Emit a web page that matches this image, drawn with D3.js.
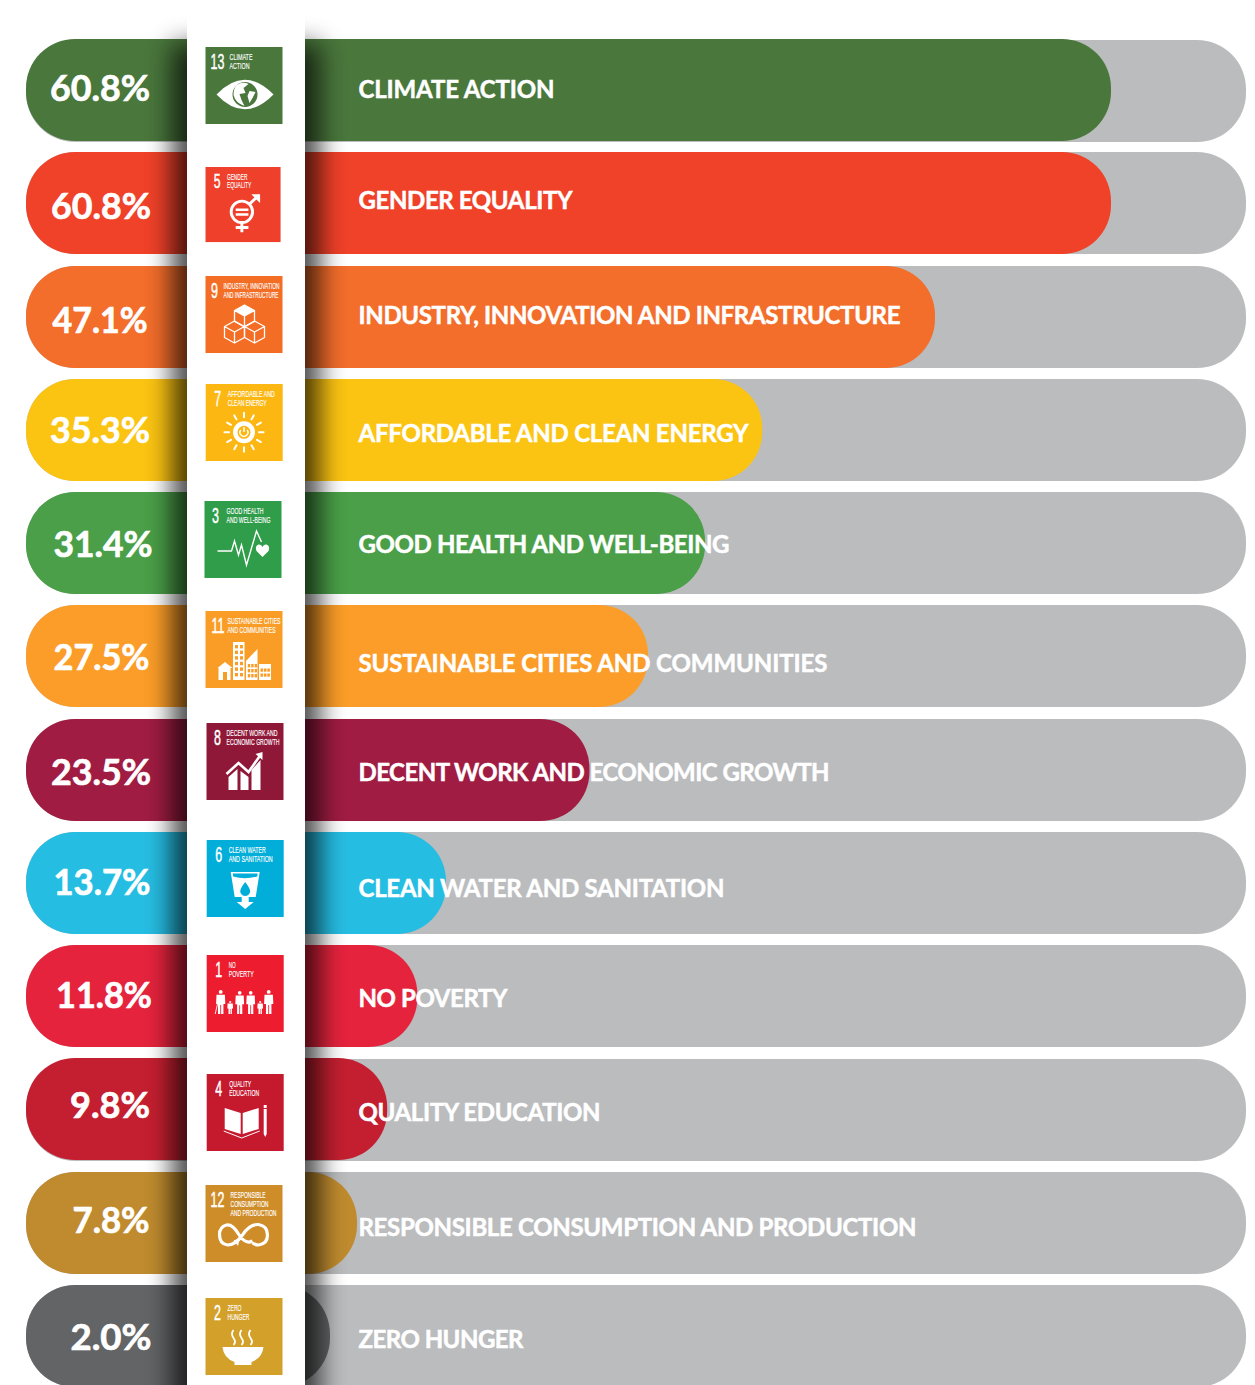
<!DOCTYPE html>
<html><head><meta charset="utf-8">
<script src="https://cdn.jsdelivr.net/npm/d3@7/dist/d3.min.js"></script>
<style>html,body{margin:0;padding:0;background:#fff;overflow:hidden}svg{display:block}</style>
</head><body><div id="chart"></div>
<script>
// ---- data ----
const goals = ["CLIMATE ACTION","GENDER EQUALITY","INDUSTRY, INNOVATION AND INFRASTRUCTURE","AFFORDABLE AND CLEAN ENERGY","GOOD HEALTH AND WELL-BEING","SUSTAINABLE CITIES AND COMMUNITIES","DECENT WORK AND ECONOMIC GROWTH","CLEAN WATER AND SANITATION","NO POVERTY","QUALITY EDUCATION","RESPONSIBLE CONSUMPTION AND PRODUCTION","ZERO HUNGER"];
const shares = [60.8,60.8,47.1,35.3,31.4,27.5,23.5,13.7,11.8,9.8,7.8,2.0];
const sdgNumbers = [13,5,9,7,3,11,8,6,1,4,12,2];
const barColors = ["#4a773c","#f04129","#f36d2b","#fbc412","#4a9f48","#fb9d28","#a01c42","#26bde2","#e5233d","#c41f30","#bf8b2e","#636466"];
const iconColors = ["#4a773c","#ef402b","#f36d25","#fdb713","#2f9d4a","#fa9d26","#8f1838","#00aed9","#ed1c2e","#c5192d","#cf8d2a","#d3a029"];
const iconTitles = [["CLIMATE","ACTION"],["GENDER","EQUALITY"],["INDUSTRY, INNOVATION","AND INFRASTRUCTURE"],["AFFORDABLE AND","CLEAN ENERGY"],["GOOD HEALTH","AND WELL-BEING"],["SUSTAINABLE CITIES","AND COMMUNITIES"],["DECENT WORK AND","ECONOMIC GROWTH"],["CLEAN WATER","AND SANITATION"],["NO","POVERTY"],["QUALITY","EDUCATION"],["RESPONSIBLE","CONSUMPTION","AND PRODUCTION"],["ZERO","HUNGER"]];

// ---- layout (not data) ----
const W=1255,H=1385,barH=102;
const titleW=[[23,20],[21,25],[56,55],[47,39],[37,44],[53,48],[51,53],[37,44],[7,25],[22,30],[35,38,46],[14,22]];
const titleX=[24,22,18,22,22,22,20,22,22,22.5,25,22];
const numX=[12,12,9,12,11,12.5,11,12,12,12,12,12];
const iconPos=[[205.5,47],[205.5,167],[205.5,276],[205.7,384],[204.5,501],[205.5,611],[206.5,723],[206.7,840],[206.7,955],[206.7,1074],[205.5,1185],[205.5,1298]];
const iconScale=[1,.975,1,1,1,1,1,1,1,1,1,1];
const pctX=[100,101,100,100,103,101.5,101,102,104,110,111,111];
const pctW=[100,100,95,100,99,96,100,97,96,80,77,81];
const pctDy=[-2,3,3.5,1,1,1,3,0,-1,-3.5,-2,1];
const labelDy=[-1,-3,-1.5,3,1,7,2,5,2,2.5,4,3];
const labelW=[196,214,542,390,371,469,471,366,149,242,558,165];
const trackDy=[1,0,0,0,0,0,0,0,0,1,0,0];

const x=d3.scaleLinear().domain([2,7.8,13.7,27.5,47.1,60.8]).range([330,357,446,648,935,1111]);
const y=d3.scaleLinear().domain([0,goals.length-1]).range([39,1285]);
const rows=d3.range(goals.length);

const svg=d3.select("#chart").append("svg").attr("width",W).attr("height",H).attr("viewBox",`0 0 ${W} ${H}`);
const defs=svg.append("defs");
defs.append("filter").attr("id","blur").attr("x","-60%").attr("y","-10%").attr("width","220%").attr("height","120%")
  .append("feGaussianBlur").attr("stdDeviation",13);

// tracks
svg.append("g").selectAll("rect").data(rows).join("rect")
  .attr("x",26).attr("y",i=>Math.round(y(i))+trackDy[i]).attr("width",1246-26).attr("height",barH).attr("rx",49).attr("fill","#bbbcbe");
// value bars
svg.append("g").selectAll("rect").data(rows).join("rect")
  .attr("x",26).attr("y",i=>Math.round(y(i))).attr("width",i=>x(shares[i])-26).attr("height",barH).attr("rx",49)
  .attr("fill",i=>barColors[i]);

// column shadow and white column
svg.append("rect").attr("x",172).attr("y",44).attr("width",148).attr("height",H+60).attr("fill","#000").attr("opacity",.7).attr("filter","url(#blur)");
svg.append("rect").attr("x",187).attr("y",7).attr("width",118).attr("height",H).attr("fill","#fff");

// percentage and goal labels
svg.append("g").selectAll("text").data(rows).join("text")
  .attr("x",i=>pctX[i]).attr("y",i=>y(i)+barH/2+pctDy[i]+12.5).attr("text-anchor","middle")
  .attr("font-family","Lato").attr("font-weight",700).attr("font-size",36).attr("fill","#fff")
  .attr("stroke","#fff").attr("stroke-width",.7)
  .attr("textLength",i=>pctW[i]).attr("lengthAdjust","spacingAndGlyphs").text(i=>shares[i].toFixed(1)+"%");
svg.append("g").selectAll("text").data(rows).join("text")
  .attr("x",358.5).attr("y",i=>y(i)+barH/2+labelDy[i]+9).attr("font-family","Lato").attr("font-weight",700)
  .attr("font-size",24).attr("fill","#fff").attr("stroke","#fff").attr("stroke-width",.5)
  .attr("textLength",i=>labelW[i]).text(i=>goals[i]);

// ---- SDG tiles ----
const pict={
 13(g,c){g.append("path").attr("d","M11 47.5Q39 18 68 47.5Q39 77 11 47.5Z").attr("fill","#fff");
   g.append("circle").attr("cx",39.5).attr("cy",47.5).attr("r",12.5).attr("fill",c);
   g.append("path").attr("d","M31 38Q38 34 43 37L38 41L40 46L34 47L36 53L39 59Q30 56 28 48Q28 42 31 38ZM44 44L50 45L47 51L44 56L42 49Z").attr("fill","#fff");},
 5(g){const s=g.append("g").attr("fill","none").attr("stroke","#fff").attr("stroke-width",3);
   s.append("circle").attr("cx",37.3).attr("cy",46).attr("r",11);
   s.append("path").attr("d","M37.3 57V67M31 62H44M45 38L55 29");
   g.append("path").attr("d","M47 28H56V37L53 34L50 31Z").attr("fill","#fff");
   g.append("path").attr("d","M31 42.5H44V45H31ZM31 47.5H44V50H31Z").attr("fill","#fff");},
 9(g){const cube=(cx,cy)=>{const s=10,h=5.5;
     g.append("path").attr("fill","none").attr("stroke","#fff").attr("stroke-width",1.3).attr("stroke-linejoin","round")
      .attr("d",`M${cx} ${cy-2*h}L${cx+s} ${cy-h}V${cy+h}L${cx} ${cy+2*h}L${cx-s} ${cy+h}V${cy-h}ZM${cx-s} ${cy-h}L${cx} ${cy}L${cx+s} ${cy-h}M${cx} ${cy}V${cy+2*h}`);};
   g.append("path").attr("d","M39 29L49 34.5L39 40L29 34.5Z").attr("fill","#fff");
   cube(39,40);cube(29,56);cube(49,56);},
 7(g,c){const rays=g.append("g").attr("stroke","#fff").attr("stroke-width",2).attr("stroke-linecap","round");
   d3.range(12).forEach(k=>{const a=k*Math.PI/6;rays.append("line").attr("x1",38.3+15*Math.cos(a)).attr("y1",48.3+15*Math.sin(a)).attr("x2",38.3+19.5*Math.cos(a)).attr("y2",48.3+19.5*Math.sin(a));});
   g.append("circle").attr("cx",38.3).attr("cy",48.3).attr("r",11).attr("fill","#fff");
   g.append("circle").attr("cx",38.3).attr("cy",48.3).attr("r",6.5).attr("fill",c);
   g.append("path").attr("d","M35 46A4 4 0 1 0 41.5 46M38.3 43V48").attr("fill","none").attr("stroke","#fff").attr("stroke-width",1.5);},
 3(g){g.append("path").attr("d","M13 50H27L30 40L34 54L37 44L42 64L52 30L57 41").attr("fill","none").attr("stroke","#fff").attr("stroke-width",1.4);
   g.append("path").attr("d","M58 56L52 50Q50 45 54 43.5Q57 43 58 46Q59 43 62 43.5Q66 45 64 50Z").attr("fill","#fff");},
 11(g,c){g.append("path").attr("d","M13 69V57H12L19.5 51L27 57H25V69ZM27.5 31H39V69H27.5ZM40.5 69V50L52 38V69ZM53.5 53H65.5V69H53.5Z").attr("fill","#fff");
   g.append("rect").attr("x",17.5).attr("y",61).attr("width",4).attr("height",8).attr("fill",c);
   const w=g.append("g").attr("fill",c);
   for(let r=0;r<6;r++)for(let k=0;k<2;k++)w.append("rect").attr("x",29.5+k*5).attr("y",34+r*5.6).attr("width",3).attr("height",3.4);
   for(let r=0;r<3;r++)for(let k=0;k<3;k++)w.append("rect").attr("x",42.3+k*3.4).attr("y",53+r*5).attr("width",2.4).attr("height",3.4);
   for(let r=0;r<2;r++)for(let k=0;k<3;k++)w.append("rect").attr("x",55+k*3.4).attr("y",57.5+r*5).attr("width",2.6).attr("height",3.2);},
 8(g){g.append("path").attr("d","M22 54L31 46V67H22ZM34 48L42 54V67H34ZM45 47L54 37V67H45Z").attr("fill","#fff");
   g.append("path").attr("d","M20 51L32 40L42 49L54 32").attr("fill","none").attr("stroke","#fff").attr("stroke-width",2.6);
   g.append("path").attr("d","M49 31L56 29L56 37Z").attr("fill","#fff");},
 6(g,c){g.append("path").attr("d","M24 32H53L49 57H42V62H47L38.5 69L30 62H35V57H28Z").attr("fill","#fff");
   g.append("path").attr("d","M26 33.5H51L50.5 36.5Q38 40 26.5 36.5Z").attr("fill",c);
   g.append("path").attr("d","M38.5 42Q44 49 43.5 52Q42 56 38.5 56Q35 56 33.5 52Q33 49 38.5 42Z").attr("fill",c);},
 1(g){const person=(px,top,h,w)=>{
     g.append("circle").attr("cx",px).attr("cy",top+h*.08).attr("r",h*.08).attr("fill","#fff");
     g.append("path").attr("fill","#fff").attr("d",`M${px-w} ${top+h*.2}H${px+w}L${px+w*1.1} ${top+h*.58}H${px+w*.65}V${top+h}H${px+w*.1}V${top+h*.62}H${px-w*.1}V${top+h}H${px-w*.65}V${top+h*.58}H${px-w*1.1}Z`);};
   person(14,35,24,4.2);person(23.5,46,13,2.6);person(33,36,23,4);person(44,36,23,4);person(53.5,46,13,2.6);person(62,35,24,4.2);
   g.append("line").attr("x1",11).attr("y1",48).attr("x2",8.5).attr("y2",59).attr("stroke","#fff").attr("stroke-width",.9);},
 4(g){g.append("path").attr("d","M18 34L34 39V60L18 55ZM36 39L52 34V55L36 60Z").attr("fill","#fff");
   g.append("path").attr("d","M17 57L35 64L53 57").attr("fill","none").attr("stroke","#fff").attr("stroke-width",1);
   g.append("path").attr("d","M57 31H60V34H57ZM57 35H60V60L58.5 63L57 60Z").attr("fill","#fff");},
 12(g){g.append("path").attr("d","M47 56Q40 60 33 49Q27 39 21 40Q14 42 14 49.5Q14 59 22 60Q30 60 37 50Q44 39 53 39.5Q62 41 62 50Q62 59 53 60Q50 60 47 58").attr("fill","none").attr("stroke","#fff").attr("stroke-width",3.2);
   g.append("path").attr("d","M28 55L34 54.5L32.5 61Z").attr("fill","#fff");},
 2(g){g.append("path").attr("d","M17 49H58Q57 60 46 64V67H29V64Q18 60 17 49Z").attr("fill","#fff");
   [28,36,45].forEach(sx=>g.append("path").attr("d",`M${sx} 32Q${sx-3} 36 ${sx} 40Q${sx+3} 44 ${sx} 47`).attr("fill","none").attr("stroke","#fff").attr("stroke-width",1.8));}
};
const tiles=svg.append("g").selectAll("g").data(rows).join("g")
  .attr("transform",i=>`translate(${iconPos[i][0]},${iconPos[i][1]}) scale(${iconScale[i]})`);
tiles.append("rect").attr("width",77).attr("height",77).attr("fill",i=>iconColors[i]);
tiles.append("text").attr("text-anchor","middle").attr("font-family","Liberation Sans").attr("font-size",21.5).attr("fill","#fff")
  .attr("stroke","#fff").attr("stroke-width",.5)
  .attr("transform",i=>`translate(${numX[i]},22) scale(.58,1)`).text(i=>sdgNumbers[i]);
tiles.each(function(i){
  const g=d3.select(this);
  const n=iconTitles[i].length;
  iconTitles[i].forEach((line,k)=>{
    g.append("text").attr("x",titleX[i]).attr("y",13+k*(n===3?9:8.7)).attr("font-family","Liberation Sans")
     .attr("font-size",n===3?8.8:9.4).attr("fill","#fff").attr("stroke","#fff").attr("stroke-width",.15)
     .attr("textLength",titleW[i][k]).attr("lengthAdjust","spacingAndGlyphs").text(line);
  });
  pict[sdgNumbers[i]](g,iconColors[i]);
});
</script></body></html>
